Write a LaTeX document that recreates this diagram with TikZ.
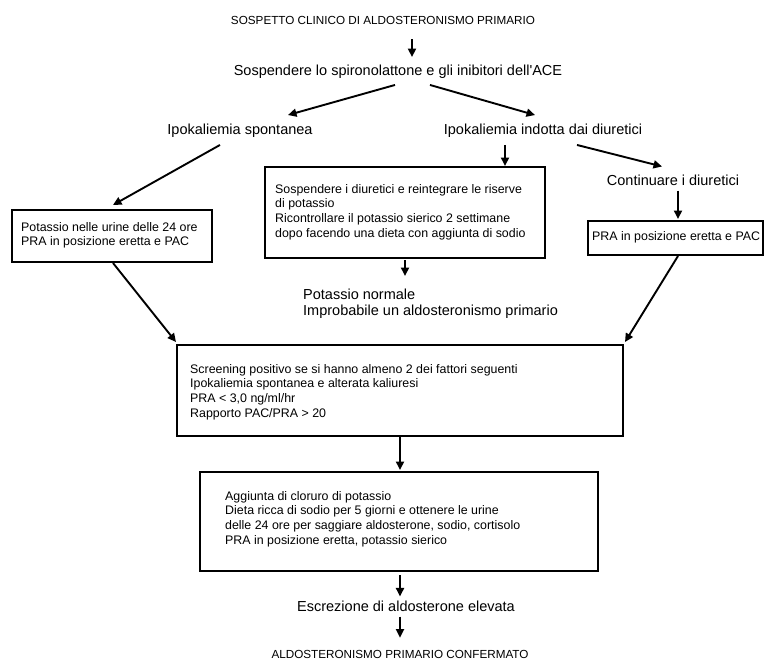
\documentclass[tikz,border=0pt]{standalone}
\usepackage{fontspec}
\setmainfont{Liberation Sans}
\usetikzlibrary{arrows.meta,calc}
\begin{document}
\begin{tikzpicture}[x=1pt,y=-1pt,
  arr/.style={line width=1.9pt,-{Triangle[length=8.5pt,width=8pt]}},
  box/.style={draw,line width=2.8pt,inner sep=0pt,outer sep=0pt},
  lbl/.style={inner sep=0pt,font=\fontsize{14.5}{17}\selectfont},
  uplbl/.style={inner sep=0pt,font=\fontsize{11.7}{14}\selectfont},
  btxt/.style={inner sep=0pt,align=left,anchor=north west,font=\fontsize{12.4}{14.7}\selectfont}]
\useasboundingbox[fill=white] (0,0) rectangle (765,661);

% labels
\node[uplbl] (t0) at (383,20) {SOSPETTO CLINICO DI ALDOSTERONISMO PRIMARIO};
\node[lbl] (t1) at (398,72) {Sospendere lo spironolattone e gli inibitori dell\textquotesingle ACE};
\node[lbl] (t2) at (240,131) {Ipokaliemia spontanea};
\node[lbl] (t3) at (543,131) {Ipokaliemia indotta dai diuretici};
\node[lbl] (t4) at (673,180) {Continuare i diuretici};
\node[lbl,align=left,anchor=north west,font=\fontsize{14.5}{15.5}\selectfont] (t5) at (303,289) {Potassio normale\\Improbabile un aldosteronismo primario};
\node[lbl] (t6) at (406,606) {Escrezione di aldosterone elevata};
\node[uplbl] (t7) at (400,654) {ALDOSTERONISMO PRIMARIO CONFERMATO};

% boxes
\node[box,minimum width=200pt,minimum height=52pt] (b1) at (112,236) {};
\node[btxt] (b1t) at (21,222) {Potassio nelle urine delle 24 ore\\PRA in posizione eretta e PAC};
\node[box,minimum width=280pt,minimum height=91pt] (b2) at (405,212.5) {};
\node[btxt] (b2t) at (275,184) {Sospendere i diuretici e reintegrare le riserve\\di potassio\\Ricontrollare il potassio sierico 2 settimane\\dopo facendo una dieta con aggiunta di sodio};
\node[box,minimum width=175pt,minimum height=34pt] (b3) at (675.5,238) {};
\node[btxt,anchor=west] (b3t) at (592,237) {PRA in posizione eretta e PAC};
\node[box,minimum width=446pt,minimum height=91pt] (b4) at (400,390.5) {};
\node[btxt] (b4t) at (190,364) {Screening positivo se si hanno almeno 2 dei fattori seguenti\\Ipokaliemia spontanea e alterata kaliuresi\\PRA < 3,0 ng/ml/hr\\Rapporto PAC/PRA > 20};
\node[box,minimum width=398pt,minimum height=99pt] (b5) at (399,521.5) {};
\node[btxt] (b5t) at (225,491) {Aggiunta di cloruro di potassio\\Dieta ricca di sodio per 5 giorni e ottenere le urine\\delle 24 ore per saggiare aldosterone, sodio, cortisolo\\PRA in posizione eretta, potassio sierico};

% arrows
\draw[arr] ($(t0.south)+(29,15)$) -- ($(t1.north)+(14,-8)$);
\draw[arr] ($(t1.south)+(-3,6)$) -- ($(t2.north)+(48,-9)$);
\draw[arr] ($(t1.south)+(32,6)$) -- ($(t3.north)+(-8,-9)$);
\draw[arr] ($(t2.south)+(-20,7)$) -- ($(b1.north)+(1,-5)$);
\draw[arr] ($(t3.south)+(-38,7)$) -- ($(b2.north)+(100,-1)$);
\draw[arr] ($(t3.south)+(34,7)$) -- ($(t4.north)+(-11,-8)$);
\draw[arr] ($(t4.south)+(5,5)$) -- ($(b3.north)+(2.5,-2)$);
\draw[arr] ($(b2.south)+(0,2)$) -- ($(t5.north west)+(102,-13)$);
\draw[arr] ($(b1.south)+(1,1)$) -- ($(b4.north west)+(-1,-3)$);
\draw[arr] ($(b3.south)+(2.5,1)$) -- ($(b4.north east)+(2,-3)$);
\draw[arr] (b4.south) -- ($(b5.north)+(1,-2)$);
\draw[arr] ($(b5.south)+(1,4)$) -- ($(t6.north)+(-6,-4)$);
\draw[arr] ($(t6.south)+(-6,5)$) -- ($(t7.north)+(0,-12)$);
\end{tikzpicture}
\end{document}
